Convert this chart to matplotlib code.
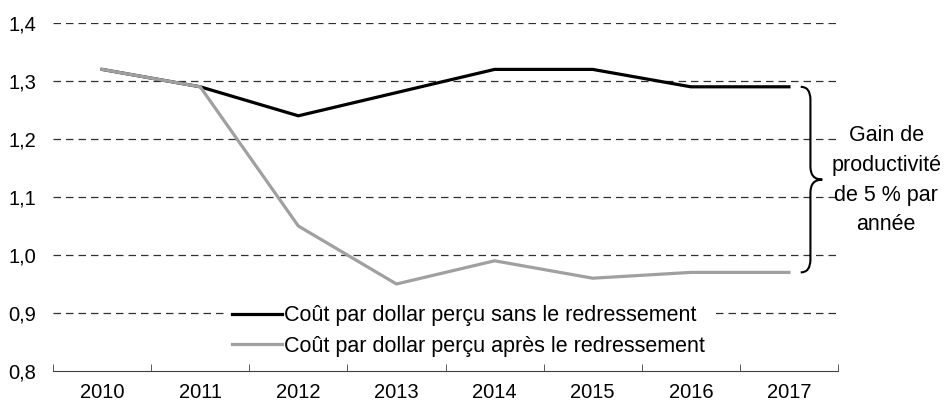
import matplotlib
matplotlib.use("Agg")
import matplotlib.pyplot as plt
from matplotlib.path import Path
import matplotlib.patches as patches
import numpy as np

plt.rcParams['font.family'] = ['Liberation Sans', 'DejaVu Sans']

years = ['2010', '2011', '2012', '2013', '2014', '2015', '2016', '2017']
sans_redressement = [1.32, 1.29, 1.24, 1.28, 1.32, 1.32, 1.29, 1.29]
apres_redressement = [1.32, 1.29, 1.05, 0.95, 0.99, 0.96, 0.97, 0.97]
yticks = [0.8, 0.9, 1.0, 1.1, 1.2, 1.3, 1.4]
brace_text = "Gain de\nproductivité\nde 5 % par\nannée"


def brace(ax, x, y0, y1, w):
    # accolade "}" de y0 (haut) a y1 (bas), pointe vers la droite
    ym = (y0 + y1) / 2
    r = abs(y0 - y1) * 0.07
    xm = x + w * 0.45
    verts = [(x, y0), (xm, y0), (xm, y0 - r),
             (xm, ym + r), (xm, ym), (x + w, ym),
             (xm, ym), (xm, ym - r),
             (xm, y1 + r), (xm, y1), (x, y1)]
    codes = [Path.MOVETO, Path.CURVE3, Path.CURVE3,
             Path.LINETO, Path.CURVE3, Path.CURVE3,
             Path.CURVE3, Path.CURVE3,
             Path.LINETO, Path.CURVE3, Path.CURVE3]
    p = patches.PathPatch(Path(verts, codes), fill=False, lw=1.5,
                          edgecolor='black', clip_on=False)
    ax.add_patch(p)


fig = plt.figure(figsize=(9.44, 4.09), dpi=100)
ax = fig.add_axes([53/944, 38/409, 785/944, 348/409])

x = np.arange(len(years))
ax.plot(x, sans_redressement, color='black', lw=2.3,
        label='Coût par dollar perçu sans le redressement', zorder=3)
ax.plot(x, apres_redressement, color='#a0a0a0', lw=2.3,
        label='Coût par dollar perçu après le redressement', zorder=3)

ax.set_xlim(-0.5, len(years) - 0.5)
ax.set_ylim(0.8, 1.4)
ax.set_yticks(yticks)
ax.set_yticklabels([('%.1f' % v).replace('.', ',') for v in yticks])
ax.set_xticks(x)
ax.set_xticklabels(years)
ax.set_xticks(np.arange(-0.5, len(years)), minor=True)
ax.tick_params(axis='x', which='major', length=0, pad=9, labelsize=14.5)
ax.tick_params(axis='x', which='minor', length=5, direction='in', color='#404040')
ax.tick_params(axis='y', length=0, pad=12, labelsize=14.5)

for v in yticks[1:]:
    ax.axhline(v, color='#303030', lw=0.9, ls=(0, (6, 4)), zorder=1)

for s in ['top', 'right', 'left']:
    ax.spines[s].set_visible(False)
ax.spines['bottom'].set_color('#404040')

leg = ax.legend(loc='center', bbox_to_anchor=(0.529, 0.115), frameon=True,
                fontsize=15.5, handlelength=2.3, handletextpad=0.1,
                borderpad=0.3, labelspacing=0.45, fancybox=False)
leg.get_frame().set_edgecolor('none')
leg.get_frame().set_facecolor('white')
leg.get_frame().set_alpha(1)
leg.set_zorder(2)

brace(ax, 7.12, 1.29, 0.97, 0.22)
ax.text(7.99, 1.129, brace_text, ha='center', va='center', fontsize=15.5,
        linespacing=1.55)

fig.savefig('out.png', dpi=100)
